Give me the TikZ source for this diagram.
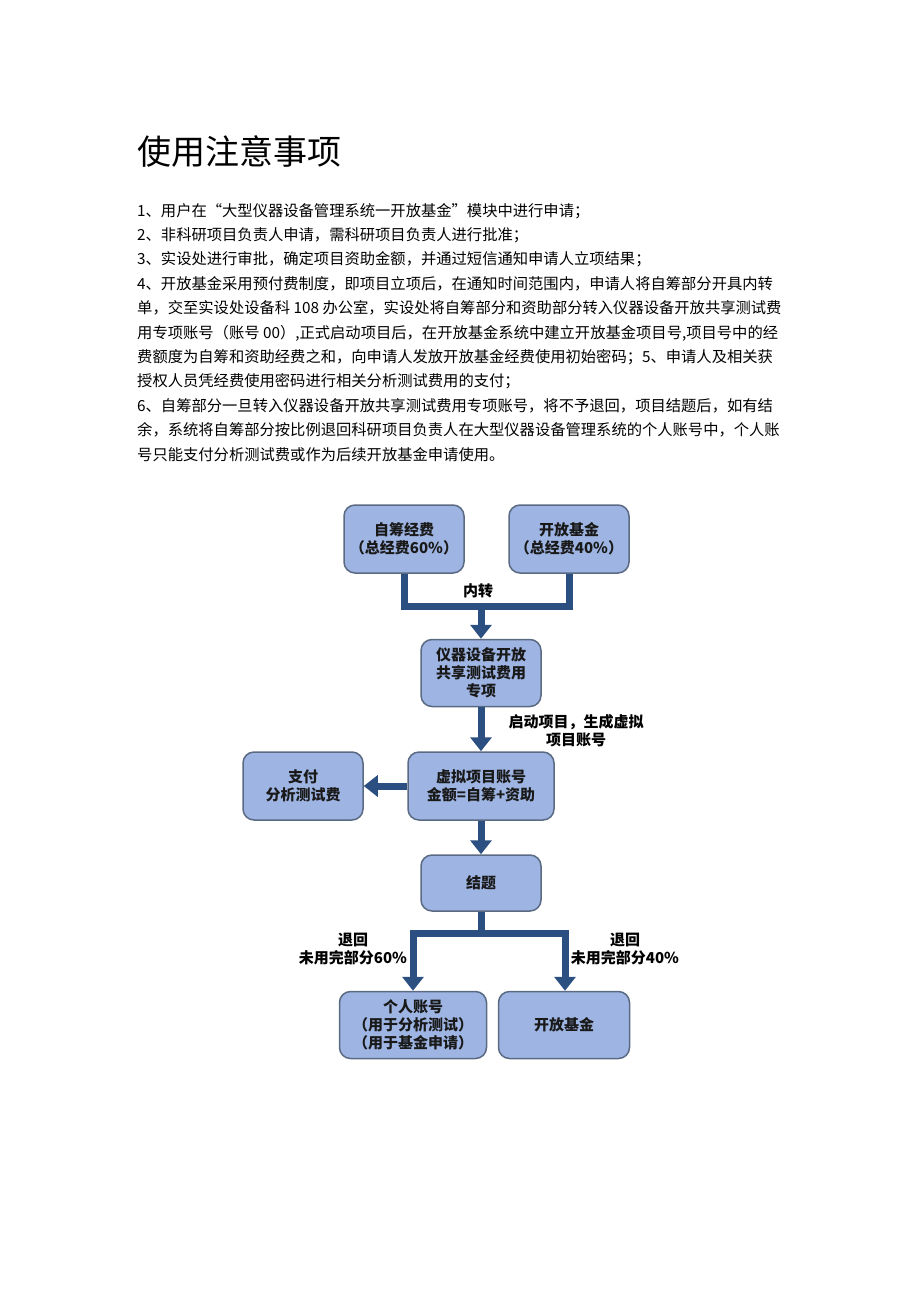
\documentclass[tikz,border=0pt]{standalone}
\usepackage{fontspec}
\setmainfont{Noto Sans CJK SC}
\usepackage{xcolor}
\usepackage{tikz}
\usetikzlibrary{arrows.meta}
\usetikzlibrary{positioning,shapes.geometric}

\definecolor{kastenblau}{HTML}{9EB5E4}
\definecolor{kastenrand}{HTML}{5A6A82}
\definecolor{pfeilblau}{HTML}{2B4F80}

\begin{document}
\begin{tikzpicture}[x=1pt,y=-1pt,>={Triangle[length=14pt,width=21pt]},
box/.style={rectangle,rounded corners=11pt,fill=kastenblau,draw=kastenrand,line width=1.5pt,
align=center,font=\fontsize{15}{18}\selectfont\bfseries,text=black!90},
flow/.style={line width=7pt,pfeilblau},
lab/.style={align=center,font=\fontsize{15}{18}\selectfont\bfseries}]
\useasboundingbox (0,0) rectangle (920,1301);

% Titel und Hinweise
\node (Titel) [anchor=west,inner sep=0pt,font=\fontsize{34}{40}\selectfont] at (137,152) {使用注意事项};
\node (Hinweis) [anchor=north west,align=left,inner sep=0pt,font=\fontsize{15.3}{24.4}\selectfont] at (137,203)
{1、用户在“大型仪器设备管理系统一开放基金”模块中进行申请；\\
2、非科研项目负责人申请，需科研项目负责人进行批准；\\
3、实设处进行审批，确定项目资助金额，并通过短信通知申请人立项结果；\\
4、开放基金采用预付费制度，即项目立项后，在通知时间范围内，申请人将自筹部分开具内转\\
单，交至实设处设备科 108 办公室，实设处将自筹部分和资助部分转入仪器设备开放共享测试费\\
用专项账号（账号 00）,正式启动项目后，在开放基金系统中建立开放基金项目号,项目号中的经\\
费额度为自筹和资助经费之和，向申请人发放开放基金经费使用初始密码；5、申请人及相关获\\
授权人员凭经费使用密码进行相关分析测试费用的支付；\\
6、自筹部分一旦转入仪器设备开放共享测试费用专项账号，将不予退回，项目结题后，如有结\\
余，系统将自筹部分按比例退回科研项目负责人在大型仪器设备管理系统的个人账号中，个人账\\
号只能支付分析测试费或作为后续开放基金申请使用。};

% Kaesten
\node (Zichou) [box,xshift=404pt,yshift=-539pt,minimum width=120pt,minimum height=68pt] {自筹经费\\（总经费60\%）};
\node (Jijin) [box,xshift=569pt,yshift=-539pt,minimum width=120pt,minimum height=68pt] {开放基金\\（总经费40\%）};
\node (Zhuanxiang) [box,xshift=481pt,yshift=-673pt,minimum width=120pt,minimum height=67pt] {仪器设备开放\\共享测试费用\\专项};
\node (Xuni) [box,xshift=481pt,yshift=-786pt,minimum width=146pt,minimum height=68pt] {虚拟项目账号\\金额=自筹+资助};
\node (Zhifu) [box,xshift=303pt,yshift=-786pt,minimum width=120pt,minimum height=68pt] {支付\\分析测试费};
\node (Jieti) [box,xshift=481pt,yshift=-883pt,minimum width=120pt,minimum height=56pt] {结题};
\node (Geren) [box,xshift=413pt,yshift=-1025pt,minimum width=147pt,minimum height=67pt] {个人账号\\（用于分析测试）\\（用于基金申请）};
\node (Jijin2) [box,xshift=564pt,yshift=-1025pt,minimum width=131pt,minimum height=67pt] {开放基金};

% Pfeile
\draw[flow] (Zichou.south) -- ++(0,33) -| (Jijin.south);
\coordinate (Neizhuan) at (481,606);
\node (NZtext) [lab] at (478,591) {内转};
\draw[flow,->] (Neizhuan) -- (Zhuanxiang.north);
\draw[flow,->] (Zhuanxiang.south) -- (Xuni.north);
\node (Qidong) [lab] at (576,731) {启动项目，生成虚拟\\项目账号};
\draw[flow,->] (Xuni.west) -- (Zhifu.east);
\draw[flow,->] (Xuni.south) -- (Jieti.north);
\draw[flow] (Jieti.south) -- ++(0,22) coordinate (Fen);
\draw[flow,->] (Fen) -| (Geren.north);
\draw[flow,->] (Fen) -| ([xshift=1pt]Jijin2.north);
\node (Links) [lab] at (353,949) {退回\\未用完部分60\%};
\node (Rechts) [lab] at (625,949) {退回\\未用完部分40\%};
\end{tikzpicture}
\end{document}
